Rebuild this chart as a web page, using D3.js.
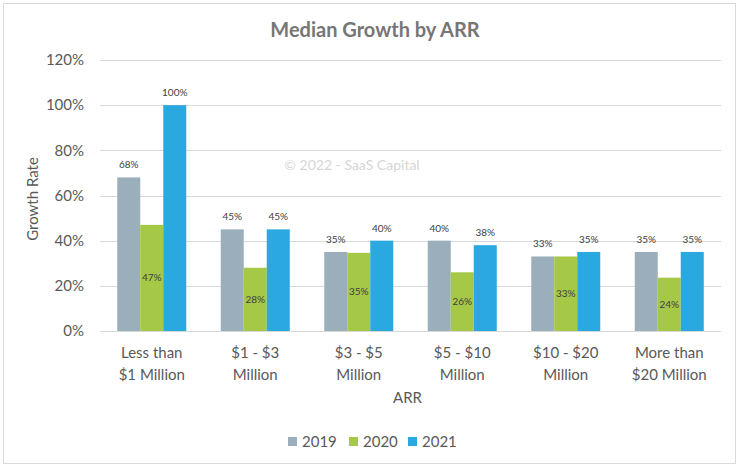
<!DOCTYPE html>
<html>
<head>
<meta charset="utf-8">
<script src="https://cdn.jsdelivr.net/npm/d3@7"></script>
<style>
  html, body { margin: 0; padding: 0; background: #fff; }
  svg { display: block; font-family: Lato, "Open Sans", sans-serif; }
</style>
</head>
<body>
<svg id="chart" width="739" height="467"></svg>
<script>
const categories = [["Less than", "$1 Million"], ["$1 - $3", "Million"], ["$3 - $5", "Million"], ["$5 - $10", "Million"], ["$10 - $20", "Million"], ["More than", "$20 Million"]];
const seriesNames = ["2019", "2020", "2021"];
const values2019 = [0.68, 0.45, 0.35, 0.40, 0.33, 0.35];
const values2020 = [0.47, 0.28, 0.346, 0.26, 0.33, 0.236];
const values2021 = [1.00, 0.45, 0.40, 0.38, 0.35, 0.35];
const yTicks = [0, 0.2, 0.4, 0.6, 0.8, 1.0, 1.2];
const colors = ["#9aaebb", "#a5c946", "#2aa8e0"];

const seriesValues = [values2019, values2020, values2021];
const svg = d3.select("#chart");

// chart border
svg.append("rect").attr("x", 3.5).attr("y", 3.5).attr("width", 732).attr("height", 460)
  .attr("fill", "#fff").attr("stroke", "#d9d9d9").attr("stroke-width", 1);

const plotLeft = 100, plotRight = 721, plotTop = 60, plotBottom = 331;
const x = d3.scaleBand().domain(d3.range(categories.length)).range([plotLeft, plotRight]).paddingInner(0).paddingOuter(0);
const x1 = d3.scaleBand().domain(d3.range(seriesNames.length)).range([0, x.bandwidth()]).paddingInner(0).paddingOuter(0.75);
const y = d3.scaleLinear().domain([0, 1.2]).range([plotBottom, plotTop]);

// gridlines
svg.append("g").selectAll("line").data(yTicks).join("line")
  .attr("x1", plotLeft).attr("x2", plotRight)
  .attr("y1", d => Math.round(y(d)) + 0.5).attr("y2", d => Math.round(y(d)) + 0.5)
  .attr("stroke", "#d9d9d9").attr("stroke-width", 1);

// y tick labels
const yAxis = d3.axisLeft(y).tickValues(yTicks).tickFormat(d3.format(".0%")).tickSize(0).tickPadding(16);
const gy = svg.append("g").attr("transform", `translate(${plotLeft},0)`).call(yAxis);
gy.select(".domain").remove();
gy.selectAll("text").attr("font-size", 15).attr("fill", "#595959").attr("font-family", "Lato, sans-serif");

// watermark
svg.append("text").attr("x", 352).attr("y", 170).attr("text-anchor", "middle")
  .attr("font-size", 14).attr("fill", "#d6d6d6").text("© 2022 - SaaS Capital");

// bars
const groups = svg.append("g").selectAll("g").data(categories).join("g")
  .attr("transform", (d, i) => `translate(${x(i)},0)`);
seriesNames.forEach((s, si) => {
  groups.append("rect")
    .attr("x", (d, i) => x1(si))
    .attr("width", x1.bandwidth())
    .attr("y", (d, i) => y(seriesValues[si][i]))
    .attr("height", (d, i) => y(0) - y(seriesValues[si][i]))
    .attr("fill", colors[si]);
});

// bottom axis line
svg.append("line").attr("x1", plotLeft).attr("x2", plotRight).attr("y1", plotBottom + 0.5).attr("y2", plotBottom + 0.5)
  .attr("stroke", "#d9d9d9");

// data labels
const fmt = d3.format(".0%");
seriesNames.forEach((s, si) => {
  groups.append("text")
    .attr("x", (d, i) => x1(si) + x1.bandwidth() / 2)
    .attr("y", (d, i) => {
      const v = seriesValues[si][i];
      return si === 1 ? (y(v) + y(0)) / 2 + 3.5 : y(v) - 9;
    })
    .attr("text-anchor", "middle")
    .attr("font-size", 10).attr("fill", "#404040")
    .text((d, i) => fmt(seriesValues[si][i]));
});

// category labels
const xl = svg.append("g").selectAll("text").data(categories).join("text")
  .attr("text-anchor", "middle").attr("font-size", 15).attr("fill", "#595959");
xl.each(function(d, i) {
  const t = d3.select(this);
  d.forEach((line, li) => {
    t.append("tspan").attr("x", x(i) + x.bandwidth() / 2).attr("y", 358 + li * 22).text(line);
  });
});

// axis titles
svg.append("text").attr("x", (plotLeft + plotRight) / 2 - 3).attr("y", 403).attr("text-anchor", "middle")
  .attr("font-size", 15).attr("fill", "#595959").text("ARR");
svg.append("text").attr("transform", "translate(38,199) rotate(-90)").attr("text-anchor", "middle")
  .attr("font-size", 15).attr("fill", "#595959").text("Growth Rate");

// title
svg.append("text").attr("x", 375).attr("y", 37).attr("text-anchor", "middle")
  .attr("font-size", 20).attr("font-weight", "bold").attr("fill", "#767676").text("Median Growth by ARR");

// legend
const legendX = [288, 349, 408];
const lg = svg.append("g").selectAll("g").data(seriesNames).join("g")
  .attr("transform", (d, i) => `translate(${legendX[i]},437)`);
lg.append("rect").attr("width", 9).attr("height", 9).attr("fill", (d, i) => colors[i]);
lg.append("text").attr("x", 14).attr("y", 9.5).attr("font-size", 15).attr("fill", "#595959").text(d => d);
</script>
</body>
</html>
